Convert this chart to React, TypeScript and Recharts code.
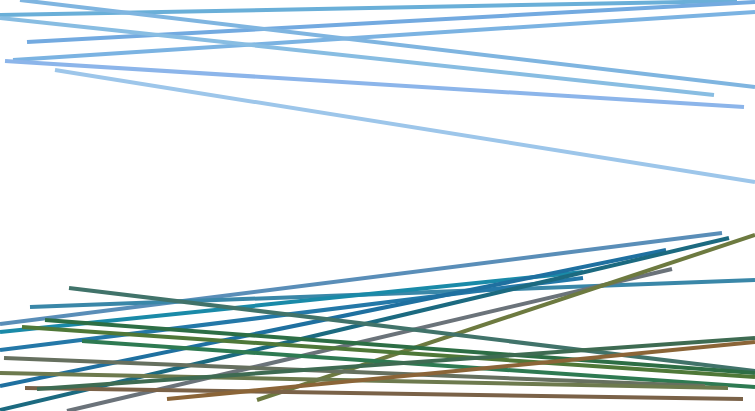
import { LineChart, Line, XAxis, YAxis } from "recharts";

// segment endpoints, x across (0-755), y up from the bottom (0-411)
const startX = [0, 27, 13, 20, 0, 5, 55, 0, 30, 0, 0, 0, 0, 67, 257, 69, 45, 22, 82, 4, 0, 25, 37, 167];
const startY = [396, 369, 351, 411, 393, 350, 341, 87, 104, 79, 61, 25, 1, 0, 11, 123, 91, 84, 70, 53, 38, 23, 22, 12];
const endX = [737, 755, 755, 755, 714, 744, 755, 722, 755, 583, 583, 666, 729, 672, 755, 755, 755, 755, 755, 705, 728, 743, 755, 755];
const endY = [410, 409, 399, 324, 316, 304, 229, 178, 131, 139, 133, 161, 173, 142, 176, 40, 38, 34, 24, 25, 23, 12, 73, 69];

const colors = [
  "#6aafd8", "#73aae0", "#7bb3e2", "#7fb5e0", "#88bde2", "#8cb5ea", "#9dc6ea",
  "#5a8eb8", "#3a87a8", "#1a8aa8", "#2478a8", "#1f70a0", "#1c6a80", "#6b737a",
  "#6d7a40", "#41736a", "#2d6e45", "#4f7838", "#2e7a52", "#66705f", "#6d7a4e",
  "#7a6248", "#3e6b52", "#8b6538",
];

const segments = startX.map((x, i) => [
  { x, y: startY[i] },
  { x: endX[i], y: endY[i] },
]);

export default function App() {
  return (
    <div style={{ position: "absolute", left: 0, top: 0, background: "#fff" }}>
      <LineChart width={755} height={411} margin={{ top: 0, right: 0, bottom: 0, left: 0 }}>
        <XAxis type="number" dataKey="x" domain={[0, 755]} hide allowDataOverflow />
        <YAxis type="number" dataKey="y" domain={[0, 411]} hide allowDataOverflow />
        {segments.map((seg, i) => (
          <Line
            key={i}
            data={seg}
            dataKey="y"
            stroke={colors[i]}
            strokeWidth={4}
            dot={false}
            activeDot={false}
            isAnimationActive={false}
          />
        ))}
      </LineChart>
    </div>
  );
}
